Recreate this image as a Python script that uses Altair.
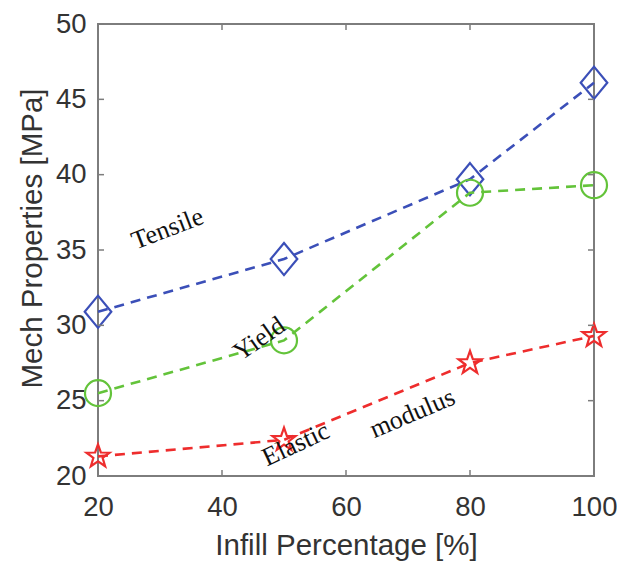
import altair as alt
import pandas as pd

# ---- data ----
infill = [20, 50, 80, 100]
tensile = [30.9, 34.4, 39.7, 46.1]
yield_strength = [25.5, 29.0, 38.8, 39.3]
elastic = [21.3, 22.4, 27.5, 29.3]

x_ticks = [20, 40, 60, 80, 100]
y_ticks = [20, 25, 30, 35, 40, 45, 50]

label_text = ["Tensile", "Yield", "Elastic", "modulus"]
label_x = [31.2, 46.0, 51.9, 70.7]
label_y = [36.4, 29.1, 22.1, 24.15]
label_angle = [339, 325, 335, 337]

# ---- styling ----
W, H = 496, 452
FRAME = "#7d7d7d"
TXT = "#333333"
BLUE = "#3b4fb8"
GREEN = "#63c33a"
RED = "#ee2d2d"

xs = alt.Scale(domain=[20, 100], nice=False, zero=False)
ys = alt.Scale(domain=[20, 50], nice=False, zero=False)

df_t = pd.DataFrame({"x": infill, "y": tensile})
df_y = pd.DataFrame({"x": infill, "y": yield_strength})
df_e = pd.DataFrame({"x": infill, "y": elastic})
df_lab = pd.DataFrame({"t": label_text, "x": label_x, "y": label_y, "a": label_angle})
df_xt = pd.DataFrame({"x": x_ticks})
df_yt = pd.DataFrame({"y": y_ticks})

x_axis = alt.Axis(orient="bottom", values=x_ticks, title="Infill Percentage [%]", grid=False, ticks=False,
                  domain=False, labelFont="Liberation Sans", labelFontSize=27.5, labelColor=TXT,
                  labelPadding=17, labelFlush=False, labelOverlap=False,
                  titleFont="Liberation Sans", titleFontSize=29.5,
                  titleFontWeight="normal", titleColor=TXT, titleY=78, titleBaseline="alphabetic")
y_axis = alt.Axis(orient="left", values=y_ticks, title="Mech Properties [MPa]", grid=False, ticks=False,
                  domain=False, labelFont="Liberation Sans", labelFontSize=27.5, labelColor=TXT,
                  labelPadding=12, labelFlush=False, labelOverlap=False,
                  titleFont="Liberation Sans", titleFontSize=29.5,
                  titleFontWeight="normal", titleColor=TXT, titleX=-57, titleY=214,
                  titleBaseline="alphabetic")

EX = alt.X("x:Q", scale=xs, axis=x_axis)
EY = alt.Y("y:Q", scale=ys, axis=y_axis)

DIAMOND = "M0,-1.15L0.95,0L0,1.15L-0.95,0Z"
STAR = ("M0,-1L0.235,-0.324L0.951,-0.309L0.380,0.124L0.588,0.809L0,0.4"
        "L-0.588,0.809L-0.380,0.124L-0.951,-0.309L-0.235,-0.324Z")


def series(df, color, shape, size):
    line = alt.Chart(df).mark_line(color=color, strokeDash=[10, 7], strokeWidth=2.6).encode(x=EX, y=EY)
    pts = alt.Chart(df).mark_point(color=color, filled=False, strokeWidth=2.2, shape=shape,
                                   size=size, opacity=1).encode(x=EX, y=EY)
    return line + pts


layer_t = series(df_t, BLUE, DIAMOND, 784)
layer_y = series(df_y, GREEN, "circle", 676)
layer_e = series(df_e, RED, STAR, 590)

# inward ticks on all four sides
tick_style = dict(color=FRAME, strokeWidth=1.5)
xt_bottom = alt.Chart(df_xt).mark_rule(**tick_style).encode(
    x=EX, y=alt.value(H), y2=alt.value(H - 6))
xt_top = alt.Chart(df_xt).mark_rule(**tick_style).encode(
    x=EX, y=alt.value(0), y2=alt.value(6))
yt_left = alt.Chart(df_yt).mark_rule(**tick_style).encode(
    y=EY, x=alt.value(0), x2=alt.value(6))
yt_right = alt.Chart(df_yt).mark_rule(**tick_style).encode(
    y=EY, x=alt.value(W), x2=alt.value(W - 6))

labels = alt.Chart(df_lab).mark_text(font="Liberation Serif", fontSize=26, color="#111111",
                                     align="center", baseline="middle").encode(
    x=EX, y=EY, text="t:N", angle=alt.Angle("a:Q", scale=None))

chart = alt.layer(
    layer_t, layer_y, layer_e, labels,
    xt_bottom, xt_top, yt_left, yt_right,
).properties(
    width=W, height=H,
    autosize=alt.AutoSizeParams(type="none"),
    padding={"left": 90, "top": 16, "right": 23, "bottom": 85},
).configure(
    background="white",
    view=alt.ViewConfig(stroke=FRAME, strokeWidth=2),
)

chart.save("out.html", embed_options={"renderer": "svg", "actions": False})
